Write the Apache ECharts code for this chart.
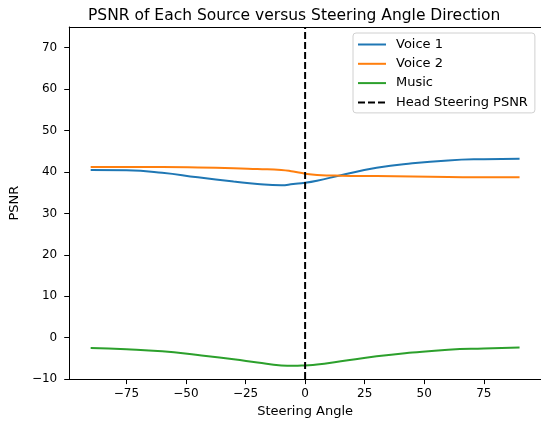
<!DOCTYPE html>
<html>
<head>
<meta charset="utf-8">
<script src="https://cdn.jsdelivr.net/npm/echarts@6/dist/echarts.min.js"></script>
<style>
  html, body { margin: 0; padding: 0; background: #fff; }
  #chart { width: 541px; height: 423px; }
</style>
</head>
<body>
<div id="chart"></div>
<script>
// steering angles (deg)
var angles = [-90, -75, -60, -45, -30, -20, -10, -5, 0, 5, 15, 30, 45, 60, 75, 90];
// PSNR per source
var voice1 = [40.5, 40.4, 39.8, 38.7, 37.7, 37.1, 36.8, 37.1, 37.4, 37.9, 39.2, 41.0, 42.1, 42.8, 43.1, 43.2];
var voice2 = [41.2, 41.2, 41.2, 41.1, 40.9, 40.7, 40.5, 40.1, 39.6, 39.3, 39.1, 39.0, 38.9, 38.8, 38.7, 38.7];
var music  = [-2.5, -2.8, -3.3, -4.2, -5.2, -6.0, -6.7, -6.8, -6.7, -6.5, -5.7, -4.5, -3.6, -2.9, -2.6, -2.4];
// head steering marker at 0 deg
var headAngle = 0;
var xTicks = [-75, -50, -25, 0, 25, 50, 75];
var yTicks = [-10, 0, 10, 20, 30, 40, 50, 60, 70];

function pairs(xs, ys) {
    return xs.map(function (x, i) { return [x, ys[i]]; });
}
function fmt(v) {
    return String(v).replace('-', '\u2212');
}

var font = 'DejaVu Sans';
var myChart = echarts.init(document.getElementById('chart'));

var option = {
    animation: false,
    textStyle: { fontFamily: font },
    title: {
        text: 'PSNR of Each Source versus Steering Angle Direction',
        left: 83,
        top: 3,
        textStyle: { fontFamily: font, fontSize: 15.5, fontWeight: 'normal', color: '#000' }
    },
    grid: { left: 67, top: 27, width: 476, bottom: 42 },
    legend: {
        orient: 'vertical',
        left: 353, top: 33,
        padding: [5, 7, 4, 4],
        itemWidth: 28, itemHeight: 14, itemGap: 6.3,
        backgroundColor: 'rgba(255,255,255,0.8)',
        borderColor: '#d0d0d0', borderWidth: 1, borderRadius: 3,
        itemStyle: { color: 'transparent', borderWidth: 0, opacity: 0 },
        textStyle: { fontFamily: font, fontSize: 13, color: '#000', padding: [0, 0, 0, 5] },
        data: ['Voice 1', 'Voice 2', 'Music', 'Head Steering PSNR']
    },
    xAxis: [
        {
            type: 'value',
            min: -99, max: 99,
            name: 'Steering Angle',
            nameLocation: 'middle',
            nameGap: 25,
            nameTextStyle: { fontFamily: font, fontSize: 13, color: '#000' },
            axisLine: { show: true, onZero: false, lineStyle: { color: '#000', width: 1 } },
            axisTick: { show: true, length: 5, customValues: xTicks, lineStyle: { color: '#000' } },
            axisLabel: { customValues: xTicks, margin: 9, fontSize: 12, color: '#000', formatter: fmt },
            splitLine: { show: false }
        },
        {
            // top spine only
            type: 'value', position: 'top',
            min: -99, max: 99,
            axisLine: { show: true, onZero: false, lineStyle: { color: '#000', width: 1 } },
            axisTick: { show: false },
            axisLabel: { show: false },
            splitLine: { show: false }
        }
    ],
    yAxis: {
        type: 'value',
        min: -10, max: 75,
        name: 'PSNR',
        nameLocation: 'middle',
        nameGap: 45,
        nameTextStyle: { fontFamily: font, fontSize: 13, color: '#000' },
        axisLine: { show: true, onZero: false, lineStyle: { color: '#000', width: 1 } },
        axisTick: { show: true, length: 5, customValues: yTicks, lineStyle: { color: '#000' } },
        axisLabel: { customValues: yTicks, margin: 12, fontSize: 12, color: '#000', formatter: fmt },
        splitLine: { show: false }
    },
    series: [
        {
            name: 'Voice 1', type: 'line', data: pairs(angles, voice1),
            smooth: true, symbol: 'none', color: '#1f77b4',
            lineStyle: { width: 2, color: '#1f77b4' }
        },
        {
            name: 'Voice 2', type: 'line', data: pairs(angles, voice2),
            smooth: true, symbol: 'none', color: '#ff7f0e',
            lineStyle: { width: 2, color: '#ff7f0e' }
        },
        {
            name: 'Music', type: 'line', data: pairs(angles, music),
            smooth: true, symbol: 'none', color: '#2ca02c',
            lineStyle: { width: 2, color: '#2ca02c' }
        },
        {
            name: 'Head Steering PSNR', type: 'line',
            data: [[headAngle, -10], [headAngle, 75]],
            symbol: 'none', color: '#000',
            lineStyle: { width: 2, color: '#000', type: [7, 3] }
        }
    ]
};

myChart.setOption(option);
window.addEventListener('resize', function () {
    myChart.resize();
});
</script>
</body>
</html>
